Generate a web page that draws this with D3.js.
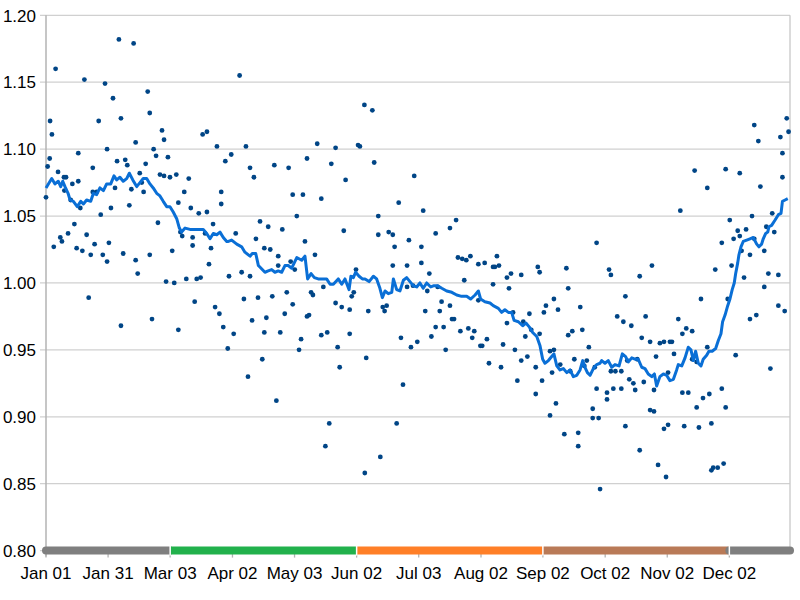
<!DOCTYPE html>
<html>
<head>
<meta charset="utf-8">
<script src="https://cdn.jsdelivr.net/npm/d3@7"></script>
<style>
  html, body { margin: 0; padding: 0; background: #fff; }
  svg { display: block; font-family: "Liberation Sans", Arial, sans-serif; }
</style>
</head>
<body>
<svg id="chart" width="800" height="600"></svg>
<script>
// day of year (0 = Jan 01) and value of each daily point
const dotDays = [
  0, 0.8, 1.8, 2.0, 2.9, 4.7, 3.8, 5.9, 7.0, 7.8, 8.8, 9.8, 9.0, 10.8, 12.1, 12.9, 13.9, 15.0, 15.8, 15.8,
  16.8, 17.8, 18.8, 19.9, 20.9, 21.9, 22.9, 22.9, 23.8, 24.8, 25.8, 26.8, 27.8, 28.9, 29.9, 29.9, 30.8, 31.8, 32.8, 33.8,
  34.8, 35.7, 36.7, 36.7, 37.8, 38.8, 39.8, 40.8, 41.8, 42.9, 43.9, 43.9, 44.9, 45.9, 46.9, 47.8, 48.8, 49.8, 50.8, 50.8,
  51.9, 52.7, 53.9, 54.8, 55.8, 56.8, 57.8, 57.8, 58.8, 59.7, 60.7, 61.8, 62.8, 63.8, 64.8, 64.8, 65.8, 66.7, 67.7, 68.7,
  69.9, 70.9, 71.8, 71.8, 72.8, 73.8, 74.8, 75.7, 76.7, 77.9, 78.8, 78.8, 79.8, 80.8, 81.8, 82.8, 83.7, 84.9, 85.8, 85.8,
  86.8, 87.8, 89.6, 90.7, 89.0, 91.9, 92.9, 95.8, 94.8, 96.9, 97.9, 98.9, 99.9, 99.9, 100.9, 101.8, 102.8, 103.8, 104.8, 105.9,
  106.9, 106.9, 107.9, 108.8, 109.8, 110.8, 111.8, 112.8, 113.7, 113.7, 114.7, 115.7, 116.9, 117.9, 118.8, 119.8, 120.8, 120.8, 121.8, 122.8,
  123.9, 124.9, 125.8, 126.8, 127.8, 127.8, 128.8, 129.8, 130.7, 131.7, 132.8, 134.8, 134.8, 135.8, 136.8, 137.7, 138.7, 139.7, 141.8, 141.8,
  142.8, 143.8, 144.8, 145.8, 146.7, 148.7, 148.7, 149.7, 150.7, 151.8, 152.8, 153.7, 155.9, 156.1, 156.8, 157.8, 159.8, 160.7, 162.7, 162.7,
  163.7, 164.9, 165.8, 166.8, 167.8, 169.8, 169.8, 170.7, 171.7, 172.7, 173.8, 174.8, 176.8, 176.8, 177.7, 178.7, 179.7, 180.3, 184.7, 181.8,
  183.8, 183.8, 185.7, 186.7, 187.7, 188.7, 190.8, 190.8, 191.8, 192.8, 193.7, 194.7, 195.7, 197.8, 197.8, 198.8, 199.8, 200.8, 201.7, 202.9,
  203.8, 204.8, 205.8, 206.8, 207.8, 208.7, 209.7, 211.7, 211.7, 212.7, 213.6, 214.8, 215.9, 216.9, 218.9, 218.9, 219.8, 220.8, 221.8, 222.8,
  223.8, 225.7, 225.7, 226.7, 227.7, 228.7, 229.6, 230.8, 232.7, 232.7, 233.7, 234.7, 235.7, 236.7, 237.6, 239.8, 239.8, 240.8, 241.7, 241.7,
  242.9, 243.8, 244.8, 246.8, 246.8, 247.8, 248.7, 248.7, 249.7, 250.7, 251.8, 253.8, 254.8, 255.7, 255.7, 256.7, 257.7, 258.7, 260.6, 260.6,
  261.6, 262.6, 263.6, 264.8, 265.8, 267.7, 267.7, 268.7, 269.6, 269.6, 270.6, 271.3, 274.7, 274.7, 275.7, 276.6, 276.6, 277.8, 278.8, 279.7,
  281.7, 281.7, 282.7, 283.7, 283.7, 284.6, 285.6, 286.6, 287.6, 288.5, 289.5, 290.7, 290.7, 291.7, 292.7, 293.6, 295.8, 295.8, 296.7, 297.7,
  297.7, 298.7, 299.7, 300.6, 302.6, 302.6, 303.6, 304.6, 304.6, 305.5, 306.5, 307.5, 309.6, 310.6, 311.6, 311.6, 312.5, 313.5, 314.5, 316.4,
  316.4, 317.6, 318.6, 318.6, 319.7, 320.7, 321.7, 323.8, 323.8, 324.8, 325.8, 325.8, 326.7, 327.7, 328.9, 330.9, 330.9, 331.8, 332.8, 332.8,
  333.8, 334.8, 335.7, 336.7, 337.7, 338.7, 339.7, 339.7, 340.6, 341.8, 342.8, 344.7, 344.7, 345.7, 346.8, 346.8, 347.8, 348.8, 349.8, 351.7,
  351.7, 352.7, 353.7, 354.7, 355.6, 356.6, 358.6, 358.6, 359.6, 360.6, 360.6, 361.7, 362.7, 363.6
];
const dotValues = [
  1.064, 1.087, 1.093, 1.121, 1.111, 1.160, 1.027, 1.083, 1.034, 1.031, 1.079, 1.079, 1.069, 1.037, 1.062, 1.074, 1.044, 1.026, 1.097, 1.076,
  1.056, 1.024, 1.152, 1.036, 0.989, 1.021, 1.086, 1.068, 1.029, 1.068, 1.121, 1.051, 1.021, 1.149, 1.100, 1.016, 1.030, 1.056, 1.138, 1.071,
  1.091, 1.182, 1.123, 0.968, 1.022, 1.092, 1.088, 1.058, 1.070, 1.179, 1.105, 1.017, 1.007, 1.082, 1.075, 1.068, 1.089, 1.143, 1.127, 1.021,
  0.973, 1.100, 1.095, 1.045, 1.081, 1.114, 1.107, 1.080, 1.001, 1.094, 1.079, 1.024, 1.000, 1.081, 1.060, 0.965, 1.038, 1.035, 1.068, 1.003,
  1.078, 1.056, 1.034, 1.028, 0.986, 1.003, 1.052, 1.004, 1.111, 1.037, 1.113, 1.053, 1.014, 1.026, 1.044, 0.982, 1.102, 0.977, 1.068, 1.059,
  0.967, 1.091, 1.005, 1.096, 0.951, 0.962, 1.037, 1.008, 1.155, 0.988, 1.102, 0.930, 1.086, 1.005, 0.972, 1.079, 1.033, 0.989, 1.046, 0.943,
  1.026, 0.963, 0.974, 1.042, 1.025, 0.990, 1.088, 0.912, 1.020, 1.013, 0.963, 1.040, 0.977, 0.993, 1.086, 1.016, 1.066, 0.984, 1.010, 1.050,
  0.950, 0.958, 1.066, 1.031, 1.093, 0.975, 0.976, 0.993, 0.991, 1.021, 1.104, 1.063, 0.961, 0.997, 0.878, 0.963, 0.895, 1.089, 1.101, 0.985,
  0.952, 0.937, 0.982, 1.039, 1.077, 0.980, 0.962, 0.990, 0.993, 1.010, 1.103, 1.102, 1.133, 0.858, 0.944, 0.979, 1.129, 1.090, 1.050, 1.036,
  0.870, 0.982, 0.979, 0.983, 1.038, 1.036, 1.013, 1.027, 0.895, 1.060, 0.959, 0.924, 1.013, 0.997, 1.032, 0.952, 0.998, 1.080, 1.054, 0.956,
  1.027, 1.015, 0.979, 0.994, 1.007, 0.960, 1.037, 0.967, 0.997, 0.979, 0.986, 0.967, 0.950, 1.041, 0.983, 0.973, 0.973, 1.047, 1.019, 0.964,
  1.018, 1.002, 1.017, 0.966, 1.020, 0.959, 0.964, 1.014, 0.987, 0.953, 0.953, 1.015, 0.958, 0.940, 1.012, 0.999, 1.012, 1.020, 1.013, 0.937,
  0.954, 1.004, 0.970, 0.996, 1.007, 0.978, 0.950, 0.927, 1.006, 0.942, 0.971, 0.960, 0.945, 0.977, 0.965, 0.937, 0.917, 1.012, 1.008, 0.962,
  0.927, 0.978, 0.983, 0.949, 0.901, 0.933, 0.988, 0.950, 0.910, 0.980, 0.939, 0.887, 1.011, 0.996, 0.961, 0.934, 0.964, 0.943, 0.888, 0.878,
  0.982, 0.965, 0.938, 0.942, 0.952, 0.906, 0.899, 0.937, 1.030, 0.921, 0.899, 0.846, 0.918, 0.913, 1.010, 1.006, 0.934, 0.921, 0.934, 0.975,
  0.934, 0.921, 0.971, 0.990, 0.893, 0.942, 0.928, 0.968, 0.925, 0.920, 0.943, 1.005, 0.875, 0.959, 0.926, 0.975, 0.956, 0.905, 1.013, 0.920,
  0.904, 0.945, 0.864, 0.955, 0.956, 0.891, 0.855, 0.933, 0.894, 0.956, 0.956, 0.947, 0.973, 1.054, 0.962, 0.918, 0.893, 0.966, 0.918, 0.964,
  0.943, 1.084, 0.941, 0.907, 0.892, 0.988, 0.914, 1.071, 0.952, 0.917, 0.895, 0.860, 0.862, 1.010, 0.862, 1.030, 0.921, 0.865, 1.085, 0.907,
  0.988, 1.047, 1.013, 1.033, 0.946, 1.039, 1.082, 1.035, 1.024, 1.004, 1.040, 1.021, 0.973, 1.050, 1.118, 1.033, 0.976, 1.106, 1.072, 1.024,
  0.997, 1.042, 1.007, 0.936, 1.052, 1.038, 1.006, 0.983, 1.109, 1.097, 1.079, 0.979, 1.123, 1.113
];

// smoothed curve
const lineDays = [
  0, 2.8, 4.4, 6.0, 7.2, 8.2, 9.3, 10.8, 11.8, 13.4, 15.3, 17.0, 18.3, 19.9, 21.9, 23.2, 24.8, 26.4, 28.1, 29.7,
  31.7, 33.3, 34.6, 36.2, 37.8, 39.5, 40.8, 42.5, 44.4, 46.0, 47.6, 49.3, 50.9, 52.5, 54.2, 55.8, 57.4, 59.1, 60.7, 62.3,
  64.0, 65.3, 66.4, 68.1, 70.5, 73.0, 75.4, 77.0, 78.7, 80.3, 81.9, 83.6, 85.2, 86.8, 88.5, 89.3, 90.9, 93.4, 95.8, 97.4,
  99.9, 101.0, 102.7, 104.0, 105.9, 107.2, 108.8, 110.5, 112.1, 113.7, 115.4, 117.0, 118.6, 120.3, 122.8, 125.2, 126.8, 128.1, 129.8, 131.4,
  133.3, 135.8, 137.4, 139.1, 140.7, 143.1, 144.8, 146.4, 148.4, 149.3, 150.5, 151.6, 153.3, 154.9, 156.2, 158.2, 160.3, 161.9, 163.5, 164.7,
  166.0, 167.6, 169.3, 170.1, 171.7, 173.3, 175.0, 176.6, 178.2, 179.8, 181.5, 183.1, 184.7, 186.4, 188.4, 190.0, 191.6, 193.8, 196.2, 198.7,
  201.1, 203.5, 206.0, 207.9, 210.1, 211.7, 212.8, 214.9, 217.4, 219.0, 221.5, 223.1, 224.7, 226.4, 228.0, 229.2, 231.3, 233.4, 235.0, 236.7,
  238.3, 240.3, 241.9, 243.2, 244.3, 246.0, 247.6, 248.7, 250.1, 251.7, 253.3, 255.0, 256.6, 258.2, 259.9, 261.5, 262.8, 263.9, 265.1, 266.4,
  268.0, 269.6, 271.3, 272.1, 273.7, 275.3, 277.0, 278.6, 280.6, 282.2, 283.8, 285.1, 286.8, 288.4, 290.0, 291.7, 293.3, 294.9, 296.6, 297.9,
  299.0, 300.6, 302.3, 303.9, 305.5, 307.2, 308.8, 309.6, 311.3, 312.9, 314.5, 315.8, 317.0, 318.1, 319.4, 320.7, 321.8, 323.5, 324.6, 326.2,
  327.9, 329.2, 330.5, 331.3, 332.5, 333.8, 334.9, 336.0, 337.0, 337.7, 338.7, 339.3, 340.3, 341.4, 343.1, 344.7, 346.3, 348.0, 349.1, 350.4,
  351.2, 352.4, 353.4, 354.0, 355.3, 357.0, 358.6, 359.9, 360.6, 361.9, 363.2
];
const lineValues = [
  1.071, 1.078, 1.074, 1.076, 1.072, 1.076, 1.072, 1.067, 1.062, 1.061, 1.057, 1.061, 1.059, 1.062, 1.061, 1.067, 1.066, 1.071, 1.069, 1.074,
  1.074, 1.080, 1.077, 1.079, 1.076, 1.078, 1.082, 1.077, 1.072, 1.075, 1.078, 1.078, 1.074, 1.071, 1.067, 1.065, 1.061, 1.057, 1.057, 1.053,
  1.048, 1.041, 1.038, 1.041, 1.040, 1.040, 1.040, 1.040, 1.037, 1.033, 1.037, 1.036, 1.038, 1.034, 1.031, 1.031, 1.032, 1.029, 1.027, 1.023,
  1.020, 1.022, 1.022, 1.013, 1.010, 1.008, 1.009, 1.010, 1.008, 1.009, 1.008, 1.013, 1.013, 1.011, 1.019, 1.017, 1.020, 1.003, 1.007, 1.004,
  1.003, 1.003, 1.003, 0.999, 0.999, 1.003, 0.999, 1.003, 0.995, 1.005, 1.004, 1.008, 1.005, 1.003, 1.003, 1.001, 1.005, 1.003, 0.996, 0.989,
  0.994, 0.992, 0.993, 1.003, 0.995, 0.994, 1.002, 1.004, 1.001, 0.998, 0.997, 1.000, 0.996, 1.000, 0.997, 0.998, 0.998, 0.996, 0.994, 0.993,
  0.991, 0.990, 0.990, 0.988, 0.991, 0.994, 0.988, 0.986, 0.985, 0.983, 0.981, 0.978, 0.980, 0.978, 0.978, 0.972, 0.971, 0.968, 0.970, 0.967,
  0.963, 0.960, 0.953, 0.943, 0.940, 0.942, 0.945, 0.947, 0.938, 0.935, 0.936, 0.933, 0.935, 0.930, 0.931, 0.935, 0.942, 0.937, 0.933, 0.931,
  0.936, 0.939, 0.940, 0.942, 0.940, 0.942, 0.937, 0.939, 0.938, 0.947, 0.945, 0.941, 0.944, 0.943, 0.943, 0.937, 0.936, 0.932, 0.930, 0.932,
  0.923, 0.930, 0.932, 0.931, 0.927, 0.928, 0.935, 0.939, 0.938, 0.944, 0.952, 0.950, 0.942, 0.949, 0.940, 0.938, 0.943, 0.946, 0.949, 0.949,
  0.951, 0.957, 0.962, 0.971, 0.976, 0.983, 0.988, 0.995, 1.000, 1.007, 1.015, 1.021, 1.027, 1.031, 1.032, 1.033, 1.034, 1.029, 1.027, 1.029,
  1.033, 1.037, 1.038, 1.042, 1.043, 1.047, 1.051, 1.052, 1.061, 1.062, 1.063
];

// x axis
const tickDays = [0, 30.4, 60.8, 91.3, 121.7, 152.1, 182.5, 213, 243.3, 273.8, 304.2, 334.6];
const tickLabels = ["Jan 01", "Jan 31", "Mar 03", "Apr 02", "May 03", "Jun 02", "Jul 03", "Aug 02", "Sep 02", "Oct 02", "Nov 02", "Dec 02"];
const yTicks = [0.80, 0.85, 0.90, 0.95, 1.00, 1.05, 1.10, 1.15, 1.20];

// season band under the axis
const seasonStarts = [0, 60.8, 152.1, 243.3, 334.6];
const seasonEnds = [60.8, 152.1, 243.3, 334.6, 364.3];
const seasonColors = ["#7f7f7f", "#22b14c", "#ff7f27", "#b97a57", "#7f7f7f"];

const svg = d3.select("#chart");

const x = d3.scaleLinear().domain([0, 364.3]).range([46, 790]);
const y = d3.scaleLinear().domain([0.8, 1.2]).range([550.6, 15.3]);

// horizontal grid (with the short tick on the left)
svg.append("g")
  .selectAll("line")
  .data(yTicks)
  .join("line")
    .attr("x1", 40)
    .attr("x2", x.range()[1])
    .attr("y1", d => y(d))
    .attr("y2", d => y(d))
    .attr("stroke", "#d0d0d0")
    .attr("stroke-width", 1.3);

svg.append("line")
  .attr("x1", x.range()[1]).attr("x2", x.range()[1])
  .attr("y1", y(1.2)).attr("y2", y(0.8))
  .attr("stroke", "#c8c8c8").attr("stroke-width", 1.3);

svg.append("line")
  .attr("x1", x(0)).attr("x2", x(0))
  .attr("y1", y(1.2)).attr("y2", y(0.8) + 6)
  .attr("stroke", "#b3b3b3").attr("stroke-width", 1.5);

// y labels
svg.append("g")
  .selectAll("text")
  .data(yTicks)
  .join("text")
    .attr("x", 36)
    .attr("y", d => y(d) + 6.2)
    .attr("text-anchor", "end")
    .attr("font-size", 17)
    .attr("fill", "#000")
    .text(d => d.toFixed(2));

// x ticks and labels
svg.append("g")
  .selectAll("line")
  .data(tickDays)
  .join("line")
    .attr("x1", d => x(d)).attr("x2", d => x(d))
    .attr("y1", y(0.8)).attr("y2", y(0.8) + 7)
    .attr("stroke", "#b3b3b3").attr("stroke-width", 1.3);

svg.append("g")
  .selectAll("text")
  .data(tickLabels)
  .join("text")
    .attr("x", (d, i) => x(tickDays[i]))
    .attr("y", 579)
    .attr("text-anchor", "middle")
    .attr("font-size", 17)
    .attr("fill", "#000")
    .text(d => d);

// season band
const band = svg.append("g");
band.selectAll("line")
  .data(seasonColors)
  .join("line")
    .attr("x1", (d, i) => x(seasonStarts[i]))
    .attr("x2", (d, i) => x(seasonEnds[i]))
    .attr("y1", y(0.8))
    .attr("y2", y(0.8))
    .attr("stroke", d => d)
    .attr("stroke-width", 8)
    .attr("stroke-linecap", (d, i) => (i === 0 || i === seasonColors.length - 1) ? "round" : "butt");
band.selectAll("line.sep")
  .data(seasonStarts.slice(1))
  .join("line")
    .attr("class", "sep")
    .attr("x1", d => x(d)).attr("x2", d => x(d))
    .attr("y1", y(0.8) - 5).attr("y2", y(0.8) + 5)
    .attr("stroke", "#fff").attr("stroke-width", 1.5);

// points
svg.append("g")
  .selectAll("circle")
  .data(dotDays)
  .join("circle")
    .attr("cx", d => x(d))
    .attr("cy", (d, i) => y(dotValues[i]))
    .attr("r", 2.4)
    .attr("fill", "#004586");

// smoothed line
const line = d3.line()
  .x(d => x(d))
  .y((d, i) => y(lineValues[i]));

svg.append("path")
  .datum(lineDays)
  .attr("d", line)
  .attr("fill", "none")
  .attr("stroke", "#0a6fd6")
  .attr("stroke-width", 3)
  .attr("stroke-linejoin", "round");
</script>
</body>
</html>
